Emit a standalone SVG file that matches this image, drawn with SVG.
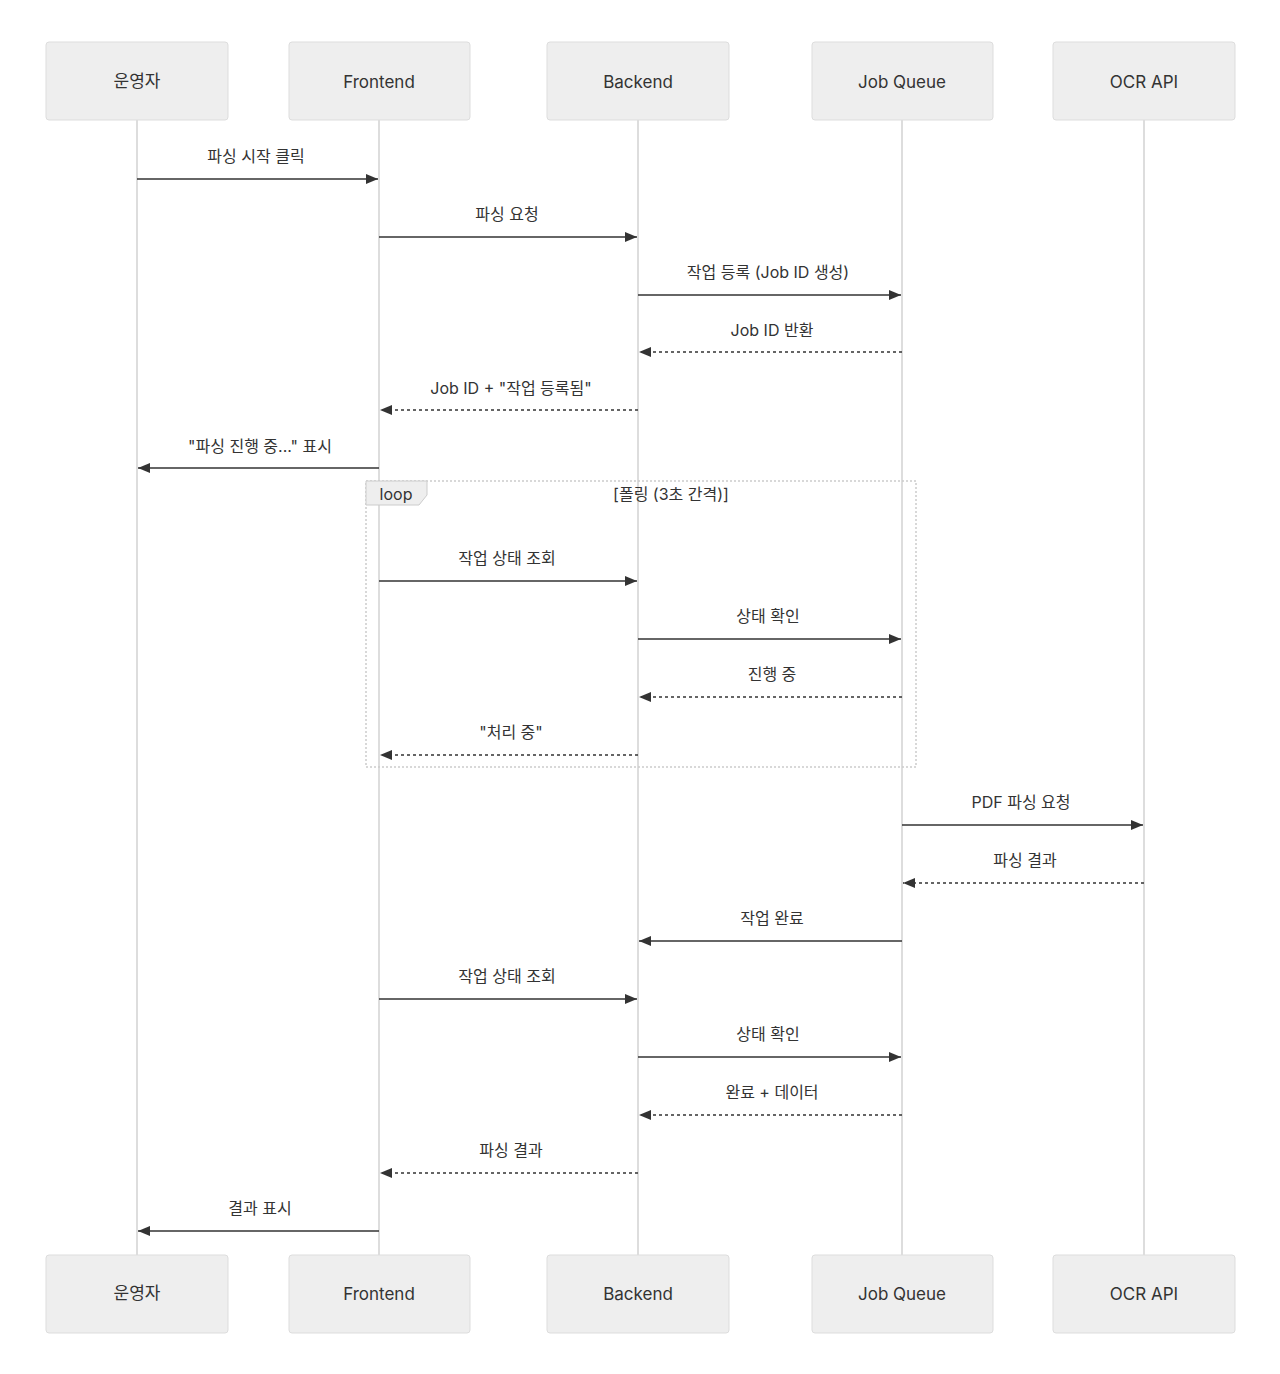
<svg xmlns="http://www.w3.org/2000/svg" width="1280" height="1374" viewBox="0 0 1280 1374">
<style>
text{font-family:"Inter","Noto Sans CJK KR",sans-serif;font-size:16px;fill:#333;text-anchor:middle}
.box{fill:#eee;stroke:#ddd;stroke-width:1}
.life{stroke:#ddd;stroke-width:2}
.m{stroke:#333;stroke-width:1.5;fill:none;marker-end:url(#ah)}
.d{stroke-dasharray:3,3}
.bt{dominant-baseline:central;font-size:17px}
</style>
<defs><marker id="ah" viewBox="0 0 12 10" refX="12" refY="5" markerWidth="12" markerHeight="10" markerUnits="userSpaceOnUse" orient="auto"><path d="M0,0L12,5L0,10z" fill="#333"/></marker></defs>
<rect width="1280" height="1374" fill="#fff"/>
<g id="lifelines">
<line class="life" x1="137" y1="120" x2="137" y2="1255"/>
<line class="life" x1="379" y1="120" x2="379" y2="1255"/>
<line class="life" x1="638" y1="120" x2="638" y2="1255"/>
<line class="life" x1="902" y1="120" x2="902" y2="1255"/>
<line class="life" x1="1144" y1="120" x2="1144" y2="1255"/>
</g>
<g id="loop">
<rect x="366" y="481" width="550" height="286" fill="none" stroke="#ccc" stroke-width="1.5" stroke-dasharray="2,2"/>
<path d="M366,481H427V495L419,505H366Z" fill="#eee" stroke="#ccc"/>
<text x="396" y="500">loop</text>
<text x="671" y="500">[폴링 (3초 간격)]</text>
</g>
<g id="n1"><rect class="box" x="46" y="42" width="182" height="78" rx="3"/><text class="bt" x="137" y="81">운영자</text></g>
<g id="n2"><rect class="box" x="289" y="42" width="181" height="78" rx="3"/><text class="bt" x="379" y="82">Frontend</text></g>
<g id="n3"><rect class="box" x="547" y="42" width="182" height="78" rx="3"/><text class="bt" x="638" y="82">Backend</text></g>
<g id="n4"><rect class="box" x="812" y="42" width="181" height="78" rx="3"/><text class="bt" x="902" y="82">Job Queue</text></g>
<g id="n5"><rect class="box" x="1053" y="42" width="182" height="78" rx="3"/><text class="bt" x="1144" y="82">OCR API</text></g>
<g id="n1b"><rect class="box" x="46" y="1255" width="182" height="78" rx="3"/><text class="bt" x="137" y="1293">운영자</text></g>
<g id="n2b"><rect class="box" x="289" y="1255" width="181" height="78" rx="3"/><text class="bt" x="379" y="1294">Frontend</text></g>
<g id="n3b"><rect class="box" x="547" y="1255" width="182" height="78" rx="3"/><text class="bt" x="638" y="1294">Backend</text></g>
<g id="n4b"><rect class="box" x="812" y="1255" width="181" height="78" rx="3"/><text class="bt" x="902" y="1294">Job Queue</text></g>
<g id="n5b"><rect class="box" x="1053" y="1255" width="182" height="78" rx="3"/><text class="bt" x="1144" y="1294">OCR API</text></g>
<g id="connectors">
<path class="m" d="M137,179H378"/><text x="256" y="162">파싱 시작 클릭</text>
<path class="m" d="M379,237H637"/><text x="507" y="220">파싱 요청</text>
<path class="m" d="M638,295H901"/><text x="768" y="278">작업 등록 (Job ID 생성)</text>
<path class="m d" d="M902,352H639"/><text x="772" y="336">Job ID 반환</text>
<path class="m d" d="M638,410H380"/><text x="511" y="394">Job ID + "작업 등록됨"</text>
<path class="m" d="M379,468H138"/><text x="260" y="452">"파싱 진행 중..." 표시</text>
<path class="m" d="M379,581H637"/><text x="507" y="564">작업 상태 조회</text>
<path class="m" d="M638,639H901"/><text x="768" y="622">상태 확인</text>
<path class="m d" d="M902,697H639"/><text x="772" y="680">진행 중</text>
<path class="m d" d="M638,755H380"/><text x="511" y="738">"처리 중"</text>
<path class="m" d="M902,825H1143"/><text x="1021" y="808">PDF 파싱 요청</text>
<path class="m d" d="M1144,883H903"/><text x="1025" y="866">파싱 결과</text>
<path class="m" d="M902,941H639"/><text x="772" y="924">작업 완료</text>
<path class="m" d="M379,999H637"/><text x="507" y="982">작업 상태 조회</text>
<path class="m" d="M638,1057H901"/><text x="768" y="1040">상태 확인</text>
<path class="m d" d="M902,1115H639"/><text x="772" y="1098">완료 + 데이터</text>
<path class="m d" d="M638,1173H380"/><text x="511" y="1156">파싱 결과</text>
<path class="m" d="M379,1231H138"/><text x="260" y="1214">결과 표시</text>
</g>
</svg>
